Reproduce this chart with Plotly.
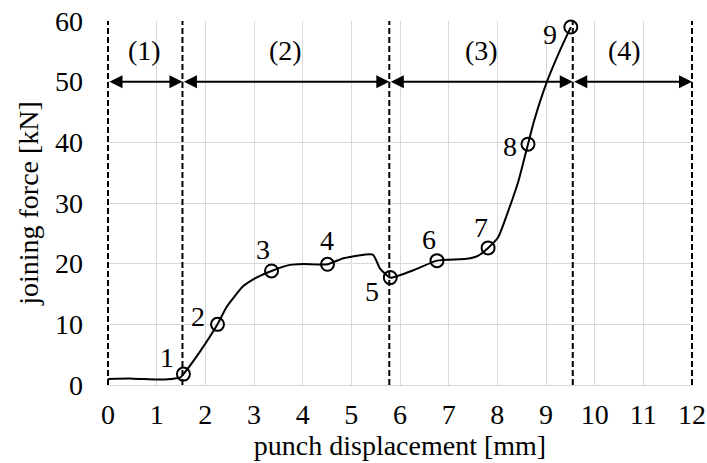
import plotly.graph_objects as go

# curve (punch displacement [mm], joining force [kN])
curve_x = [0.0, 0.5, 1.0, 1.3, 1.48, 1.55, 1.89, 2.25, 2.44, 2.78, 3.05, 3.36, 3.74, 4.01, 4.51,
           4.84, 5.44, 5.59, 5.80, 6.3, 6.76, 7.37, 7.6, 7.81, 8.02, 8.23, 8.44, 8.63, 8.75,
           9.02, 9.29, 9.51]
curve_y = [1.0, 1.05, 0.9, 1.0, 1.2, 1.8, 5.5, 10.0, 12.9, 16.3, 17.7, 18.8, 19.8, 19.95, 19.9,
           20.9, 21.5, 19.2, 17.7, 19.0, 20.5, 20.8, 21.3, 22.6, 24.4, 28.8, 33.8, 39.7, 43.4,
           50.0, 55.2, 59.0]

# numbered points
pt_x = [1.55, 2.25, 3.36, 4.51, 5.80, 6.76, 7.81, 8.63, 9.51]
pt_y = [1.8, 10.0, 18.8, 19.9, 17.7, 20.5, 22.6, 39.7, 59.0]
pt_labels = ["1", "2", "3", "4", "5", "6", "7", "8", "9"]

# phase boundaries and labels
bounds = [0.0, 1.53, 5.78, 9.55, 12.0]
arrow_level = 50
phase_labels = ["(1)", "(2)", "(3)", "(4)"]
phase_label_x = [0.76, 3.64, 7.68, 10.62]
phase_label_y = 55.2

x_range = [0, 12]
y_range = [0, 60]
x_ticks = list(range(0, 13))
y_ticks = list(range(0, 61, 10))

FONT = "Liberation Serif, Times New Roman, Times, serif"
FS = 28

# geometry (pixels)
W, H = 707, 463
M_L, M_R, M_T, M_B = 100, 7, 13, 70
PLOT_L, PLOT_R, PLOT_T, PLOT_B = 108, 692, 21, 385
pw, ph = W - M_L - M_R, H - M_T - M_B
xdom = [(PLOT_L - M_L) / pw, (PLOT_R - M_L) / pw]
ydom = [(H - M_B - PLOT_B) / ph, (H - M_B - PLOT_T) / ph]
ux = (x_range[1] - x_range[0]) / (PLOT_R - PLOT_L)
uy = (y_range[1] - y_range[0]) / (PLOT_B - PLOT_T)
x2_range = [x_range[0] - (PLOT_L - M_L) * ux, x_range[1] + (W - M_R - PLOT_R) * ux]
y2_range = [y_range[0] - (H - M_B - PLOT_B) * uy, y_range[1] + (PLOT_T - M_T) * uy]

fig = go.Figure()

fig.add_trace(go.Scatter(x=curve_x, y=curve_y, mode="lines",
                         line=dict(color="black", width=2, shape="spline", smoothing=0.5),
                         showlegend=False, cliponaxis=False))

# dashed boundaries (on a wider, aligned overlay so edge lines are not clipped)
for b in bounds:
    fig.add_trace(go.Scatter(x=[b, b], y=y_range, mode="lines", xaxis="x2", yaxis="y2",
                             line=dict(color="black", width=2, dash="6px,3px"),
                             hoverinfo="skip", showlegend=False))

fig.add_trace(go.Scatter(x=pt_x, y=pt_y, mode="markers", xaxis="x2", yaxis="y2",
                         marker=dict(symbol="circle-open", size=13, color="black",
                                     line=dict(width=2, color="black")),
                         showlegend=False, cliponaxis=False))

# point label offsets (pixels, +dy = down)
offs = [(-16, -17), (-20, -8), (-9, -21), (0, -24), (-18, 14), (-8, -21), (-7, -20), (-18, 2), (-21, 7)]
for x, y, t, (dx, dy) in zip(pt_x, pt_y, pt_labels, offs):
    fig.add_annotation(x=x, y=y, text=t, showarrow=False, xshift=dx, yshift=-dy,
                       font=dict(family=FONT, size=FS, color="black"))

# double arrows
for a, b in zip(bounds[:-1], bounds[1:]):
    fig.add_annotation(x=b, y=arrow_level, ax=a, ay=arrow_level, xref="x", yref="y",
                       axref="x", ayref="y", text="", showarrow=True,
                       arrowhead=2, startarrowhead=2, arrowside="end+start",
                       arrowsize=1.3, startarrowsize=1.3, arrowwidth=2, arrowcolor="black",
                       standoff=0, startstandoff=0)

for x, t in zip(phase_label_x, phase_labels):
    fig.add_annotation(x=x, y=phase_label_y, text=t, showarrow=False,
                       font=dict(family=FONT, size=FS, color="black"))

fig.update_layout(
    width=W, height=H,
    margin=dict(l=M_L, r=M_R, t=M_T, b=M_B),
    paper_bgcolor="white", plot_bgcolor="rgba(0,0,0,0)",
    font=dict(family=FONT, size=FS, color="black"),
    showlegend=False,
    xaxis=dict(domain=xdom, range=x_range, tickvals=x_ticks, showgrid=True, gridcolor="#d9d9d9",
               gridwidth=1, zeroline=False, showline=True, linecolor="#d9d9d9",
               ticks="", ticklabelstandoff=4, ticklabeloverflow="allow", automargin=False,
               tickfont=dict(family=FONT, size=FS),
               title=dict(text="punch displacement [mm]", standoff=6,
                          font=dict(family=FONT, size=FS))),
    yaxis=dict(domain=ydom, range=y_range, tickvals=y_ticks, showgrid=True, gridcolor="#d9d9d9",
               gridwidth=1, zeroline=False, showline=False, automargin=False,
               ticks="", ticklabelstandoff=24, ticklabeloverflow="allow",
               tickfont=dict(family=FONT, size=FS),
               title=dict(text="joining force [kN]", standoff=8,
                          font=dict(family=FONT, size=FS))),
    xaxis2=dict(domain=[0, 1], range=x2_range, anchor="y2", visible=False, automargin=False),
    yaxis2=dict(domain=[0, 1], range=y2_range, anchor="x2", visible=False, automargin=False),
)

fig.write_html("out.html", config={"displayModeBar": False},
               post_script="document.body.style.margin='0';document.body.style.overflow='hidden';")
